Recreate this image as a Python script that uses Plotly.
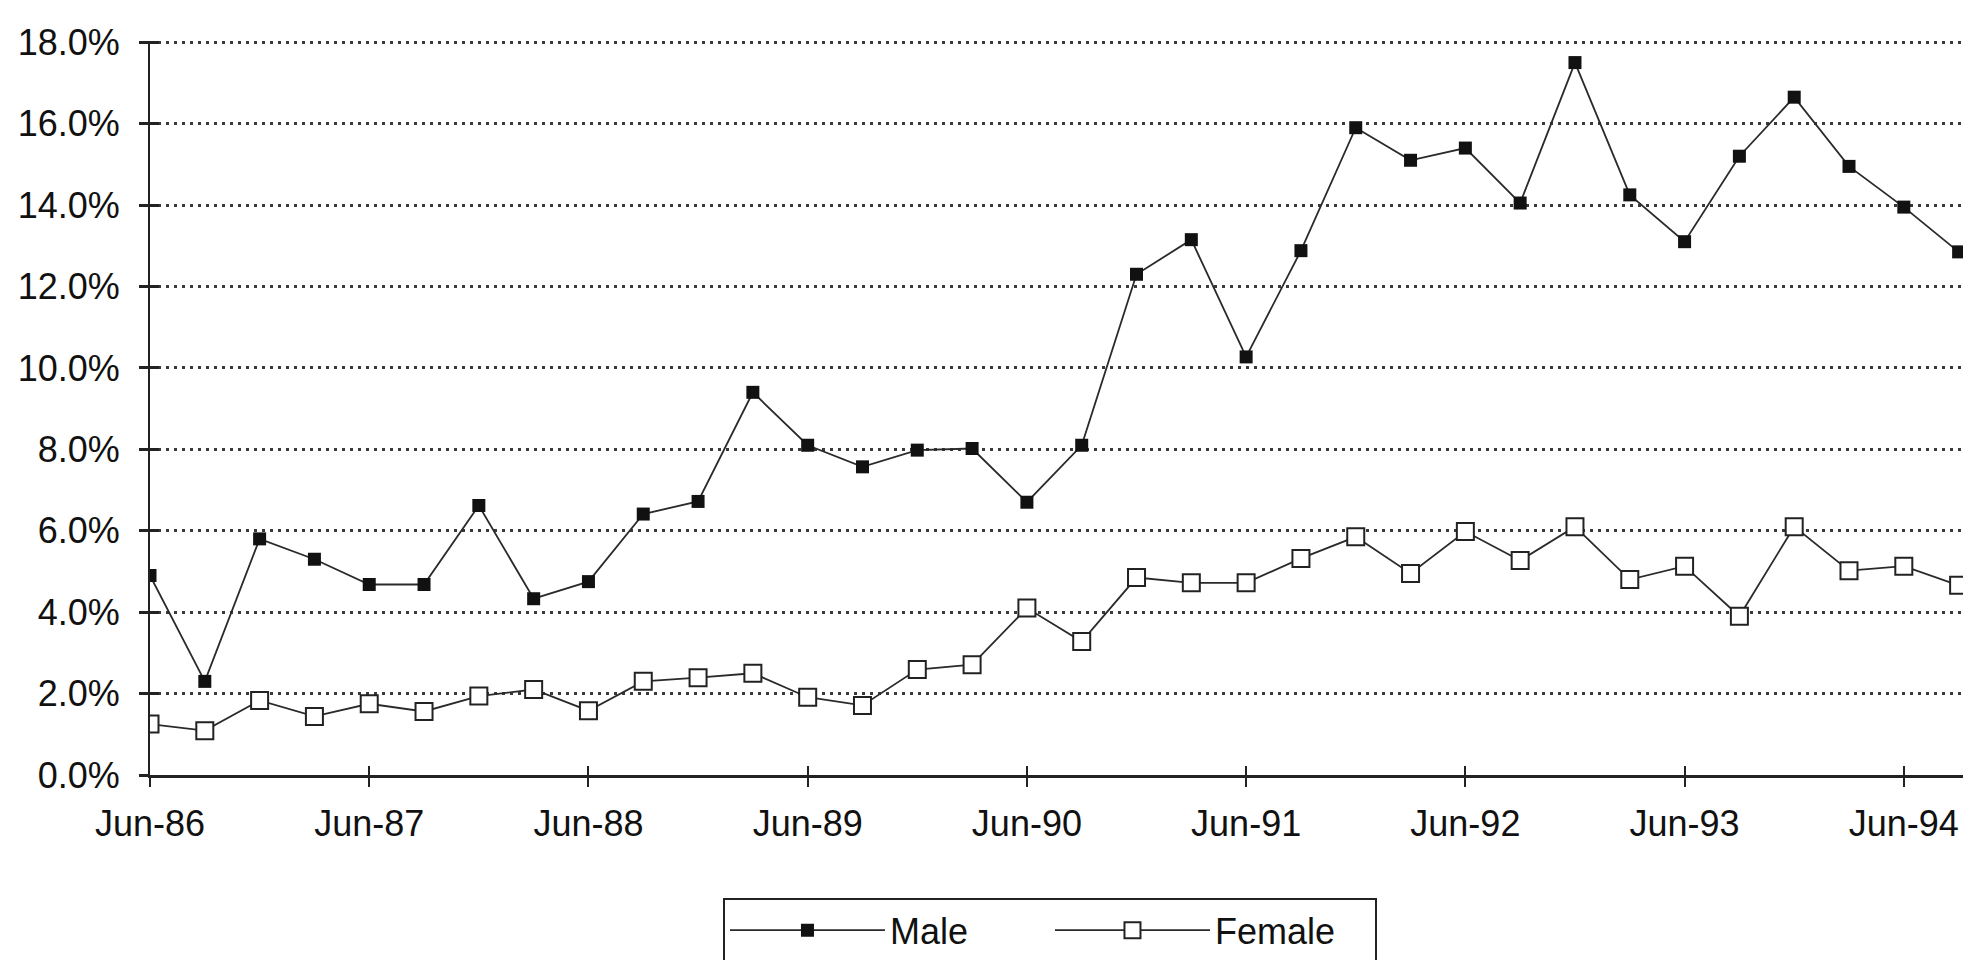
import plotly.graph_objects as go

quarters = [
    "Jun-86", "Sep-86", "Dec-86", "Mar-87", "Jun-87", "Sep-87", "Dec-87", "Mar-88",
    "Jun-88", "Sep-88", "Dec-88", "Mar-89", "Jun-89", "Sep-89", "Dec-89", "Mar-90",
    "Jun-90", "Sep-90", "Dec-90", "Mar-91", "Jun-91", "Sep-91", "Dec-91", "Mar-92",
    "Jun-92", "Sep-92", "Dec-92", "Mar-93", "Jun-93", "Sep-93", "Dec-93", "Mar-94",
    "Jun-94", "Sep-94",
]

male_pct = [
    4.9, 2.3, 5.8, 5.3, 4.68, 4.68, 6.62, 4.33,
    4.75, 6.41, 6.72, 9.4, 8.1, 7.57, 7.98, 8.02,
    6.7, 8.1, 12.3, 13.15, 10.27, 12.88, 15.9, 15.1,
    15.4, 14.05, 17.5, 14.25, 13.1, 15.2, 16.65, 14.95,
    13.95, 12.85,
]

female_pct = [
    1.25, 1.09, 1.83, 1.44, 1.75, 1.56, 1.94, 2.1,
    1.58, 2.3, 2.39, 2.5, 1.91, 1.71, 2.59, 2.71,
    4.1, 3.28, 4.85, 4.72, 4.72, 5.32, 5.85, 4.95,
    5.98, 5.27, 6.1, 4.8, 5.13, 3.9, 6.1, 5.02,
    5.13, 4.66,
]

tick_labels = ["Jun-86", "Jun-87", "Jun-88", "Jun-89", "Jun-90",
               "Jun-91", "Jun-92", "Jun-93", "Jun-94"]
y_ticks = [0, 2, 4, 6, 8, 10, 12, 14, 16, 18]
y_tick_labels = ["0.0%", "2.0%", "4.0%", "6.0%", "8.0%",
                 "10.0%", "12.0%", "14.0%", "16.0%", "18.0%"]

FONT = "Liberation Sans, Arial, sans-serif"
INK = "#111111"

fig = go.Figure()

fig.add_trace(go.Scatter(
    x=quarters, y=male_pct, name="Male<br> ", mode="lines+markers",
    line=dict(color="#2a2a2a", width=1.8),
    marker=dict(symbol="square", size=13, color="#111111", line=dict(width=0)),
))
fig.add_trace(go.Scatter(
    x=quarters, y=female_pct, name="Female<br> ", mode="lines+markers",
    line=dict(color="#2a2a2a", width=1.8),
    marker=dict(symbol="square", size=17, color="white", line=dict(width=2, color="#222222")),
))
# invisible companion trace that carries the inner halves of the crossing ticks
fig.add_trace(go.Scatter(
    x=quarters, y=female_pct, xaxis="x2", yaxis="y2", mode="lines",
    opacity=0, showlegend=False, hoverinfo="skip",
))

fig.update_layout(
    width=1963, height=960,
    margin=dict(l=150, r=0, t=41, b=185, autoexpand=False),
    paper_bgcolor="white", plot_bgcolor="white",
    font=dict(family=FONT, size=36, color=INK),
    showlegend=True,
    legend=dict(
        orientation="h", x=0.4964, xanchor="center", y=-0.168, yanchor="top",
        bordercolor="#222222", borderwidth=2, bgcolor="white",
        font=dict(family=FONT, size=36, color=INK),
        entrywidth=155, valign="top", itemwidth=155,
    ),
    xaxis=dict(
        type="category", range=[0, 33.08],
        tickmode="array", tickvals=tick_labels, ticktext=tick_labels,
        showgrid=False, zeroline=False,
        showline=True, linecolor="#222222", linewidth=2.5,
        ticks="outside", ticklen=9, tickwidth=2, tickcolor="#222222",
        ticklabelstandoff=6,
        tickfont=dict(family=FONT, size=36, color=INK),
    ),
    yaxis=dict(
        range=[0, 18.03], tickmode="array", tickvals=y_ticks, ticktext=y_tick_labels,
        showgrid=True, gridcolor="#3a3a3a", gridwidth=2.5, griddash="3px,5px",
        zeroline=False,
        showline=True, linecolor="#222222", linewidth=2,
        ticks="outside", ticklen=9, tickwidth=2.5, tickcolor="#222222",
        ticklabelstandoff=12,
        tickfont=dict(family=FONT, size=36, color=INK),
    ),
    xaxis2=dict(
        type="category", overlaying="x", anchor="y", matches="x",
        tickmode="array", tickvals=tick_labels, showticklabels=False,
        showgrid=False, zeroline=False, showline=False,
        ticks="inside", ticklen=9, tickwidth=2, tickcolor="#222222",
    ),
    yaxis2=dict(
        overlaying="y", anchor="x", matches="y", side="left",
        tickmode="array", tickvals=y_ticks, showticklabels=False,
        showgrid=False, zeroline=False, showline=False,
        ticks="inside", ticklen=9, tickwidth=2.5, tickcolor="#222222",
    ),
)

fig.write_html("out.html", config={"displayModeBar": False},
               post_script="document.body.style.margin='0';")
